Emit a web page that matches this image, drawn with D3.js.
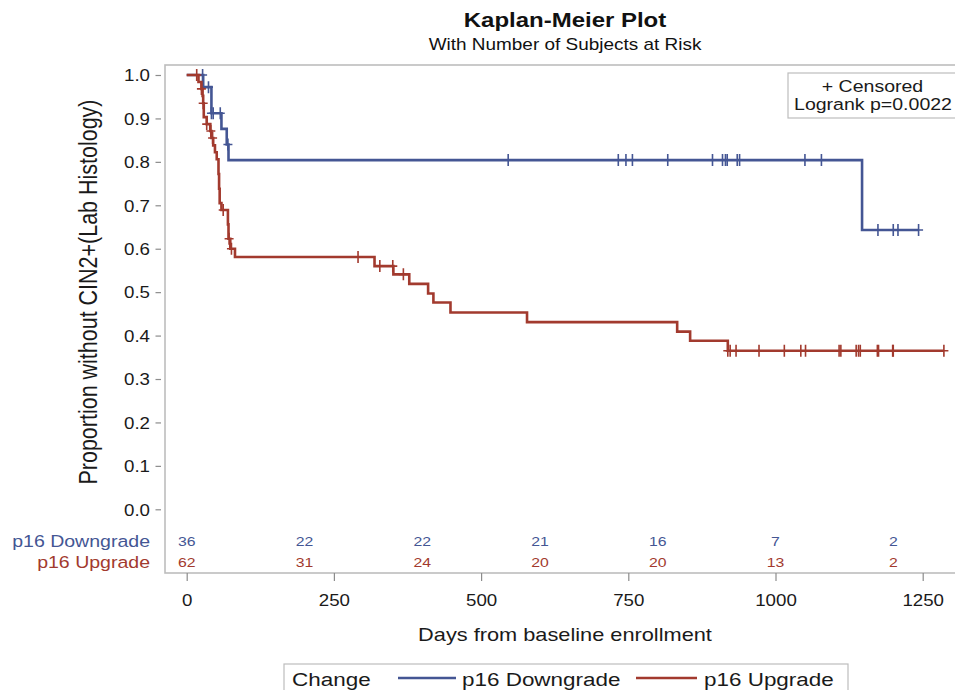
<!DOCTYPE html>
<html>
<head>
<meta charset="utf-8">
<script src="https://cdn.jsdelivr.net/npm/d3@7"></script>
<style>
  body { margin: 0; background: #fff; }
  svg { display: block; }
  text { font-family: "Liberation Sans", Arial, sans-serif; }
</style>
</head>
<body>
<div id="chart"></div>
<script>
// The SVG Element
var chart_width  = 955;
var chart_height = 690;
var SX = 1.17;   // the glyphs in the picture are drawn a bit wider than Arial

// Data
var down_name   = 'p16 Downgrade';
var up_name     = 'p16 Upgrade';

// event days and survival after each event
var down_times  = [28, 42, 59, 68, 71, 1147];
var down_surv   = [0.972, 0.912, 0.876, 0.840, 0.804, 0.643];
var down_censor = [27, 37, 42, 45, 57, 70, 546, 733, 746, 757, 817, 893, 910, 915, 918,
                   935, 939, 1050, 1078, 1174, 1200, 1208, 1243];

var up_times    = [20, 25, 27, 28, 29, 34, 40, 42, 45, 48, 51, 54, 55, 56, 59, 70, 71, 74, 82,
                   319, 351, 378, 410, 419, 448, 578, 833, 855, 919];
var up_surv     = [0.984, 0.968, 0.952, 0.935, 0.903, 0.887, 0.871, 0.855, 0.838, 0.822, 0.806,
                   0.772, 0.738, 0.705, 0.689, 0.656, 0.623, 0.600, 0.581,
                   0.560, 0.541, 0.519, 0.497, 0.476, 0.453, 0.431, 0.409, 0.388, 0.365];
var up_censor   = [17, 25, 28, 34, 41, 44, 62, 72, 76, 291, 328, 350, 368, 919, 923, 933, 972,
                   1015, 1043, 1051, 1108, 1111, 1137, 1141, 1144, 1173, 1175, 1199, 1200, 1286];

var risk_days   = [0, 200, 400, 600, 800, 1000, 1200];
var down_risk   = [36, 22, 22, 21, 16, 7, 2];
var up_risk     = [62, 31, 24, 20, 20, 13, 2];

var x_ticks     = [0, 250, 500, 750, 1000, 1250];
var y_ticks     = [0, 0.1, 0.2, 0.3, 0.4, 0.5, 0.6, 0.7, 0.8, 0.9, 1.0];
var logrank_p   = '0.0022';

var blue = '#445694';
var red  = '#a23a2e';
var grey = '#bdbdbd';

var x = d3.scaleLinear().domain([0, 1250]).range([186.7, 922.7]);
var y = d3.scaleLinear().domain([0, 1]).range([509.3, 75]);

var svg = d3.select('#chart')
    .append('svg')
    .attr('width', chart_width)
    .attr('height', chart_height);

function add_text(parent, px, py, str, size, anchor, color, weight) {
    return parent.append('text')
        .attr('transform', 'translate(' + px + ',' + py + ') scale(' + SX + ',1)')
        .attr('text-anchor', anchor || 'start')
        .style('font-size', size + 'px')
        .style('font-weight', weight || 'normal')
        .style('fill', color || '#1a1a1a')
        .text(str);
}

// titles
add_text(svg, 565, 27, 'Kaplan-Meier Plot', 20.5, 'middle', '#111', 'bold');
add_text(svg, 565, 50, 'With Number of Subjects at Risk', 16.2, 'middle', '#111');

// frame (right side runs past the picture)
svg.append('rect')
    .attr('x', 165).attr('y', 65)
    .attr('width', 800).attr('height', 508)
    .attr('fill', 'none')
    .attr('stroke', grey)
    .attr('stroke-width', 1.6);

// axes
var y_axis = svg.append('g')
    .attr('transform', 'translate(161,0)')
    .call(d3.axisLeft(y).tickValues(y_ticks).tickSize(5.5).tickFormat(d3.format('.1f')));
y_axis.select('.domain').remove();
y_axis.selectAll('line').attr('stroke', '#8c8c8c').attr('stroke-width', 1.2);
y_axis.selectAll('text')
    .attr('x', null).attr('dy', null)
    .attr('transform', 'translate(-11,5.8) scale(' + SX + ',1)')
    .style('font-size', '16px')
    .style('fill', '#1a1a1a');

var x_axis = svg.append('g')
    .attr('transform', 'translate(0,573)')
    .call(d3.axisBottom(x).tickValues(x_ticks).tickSize(8).tickFormat(d3.format('d')));
x_axis.select('.domain').remove();
x_axis.selectAll('line').attr('stroke', '#8c8c8c').attr('stroke-width', 1.2);
x_axis.selectAll('text')
    .attr('y', null).attr('dy', null)
    .attr('transform', 'translate(0,33) scale(' + SX + ',1)')
    .style('font-size', '16px')
    .style('fill', '#1a1a1a');

add_text(svg, 565, 641, 'Days from baseline enrollment', 18.6, 'middle');
svg.append('text')
    .attr('transform', 'translate(97,292) scale(' + SX + ',1) rotate(-90)')
    .attr('text-anchor', 'middle')
    .style('font-size', '21.5px')
    .style('fill', '#1a1a1a')
    .text('Proportion without CIN2+(Lab Histology)');

// curves
function surv_at(times, surv, t) {
    var s = 1;
    times.forEach(function(tt, i) { if (tt <= t) { s = surv[i]; } });
    return s;
}

var km_line = d3.line()
    .x(function(d) { return x(d[0]); })
    .y(function(d) { return y(d[1]); })
    .curve(d3.curveStepAfter);

function draw_group(times, surv, censor, color) {
    var pts = [[0, 1]];
    times.forEach(function(t, i) { pts.push([t, surv[i]]); });
    var last = d3.max(censor.concat(times));
    pts.push([last, surv[surv.length - 1]]);

    svg.append('path')
        .attr('d', km_line(pts))
        .attr('fill', 'none')
        .attr('stroke', color)
        .attr('stroke-width', 2.6);

    svg.append('g').selectAll('path')
        .data(censor)
        .enter()
        .append('path')
        .attr('transform', function(d) {
            return 'translate(' + x(d) + ',' + y(surv_at(times, surv, d)) + ')';
        })
        .attr('d', 'M-4.5,0H4.5M0,-6V6')
        .attr('stroke', color)
        .attr('stroke-width', 1.6)
        .attr('fill', 'none');
}

draw_group(down_times, down_surv, down_censor, blue);
draw_group(up_times, up_surv, up_censor, red);

// inset
svg.append('rect')
    .attr('x', 788).attr('y', 73)
    .attr('width', 180).attr('height', 45)
    .attr('fill', '#fff')
    .attr('stroke', grey)
    .attr('stroke-width', 1.2);
add_text(svg, 872.5, 91.5, '+ Censored', 16.7, 'middle');
add_text(svg, 873, 110, 'Logrank p=' + logrank_p, 16.7, 'middle');

// subjects at risk
add_text(svg, 150, 546.5, down_name, 16.7, 'end', blue);
add_text(svg, 150, 567.5, up_name, 16.7, 'end', red);
risk_days.forEach(function(d, i) {
    add_text(svg, x(d), 546, down_risk[i], 13.5, 'middle', blue);
    add_text(svg, x(d), 567, up_risk[i], 13.5, 'middle', red);
});

// legend
svg.append('rect')
    .attr('x', 284).attr('y', 664)
    .attr('width', 564).attr('height', 32)
    .attr('fill', 'none')
    .attr('stroke', grey)
    .attr('stroke-width', 1.2);
add_text(svg, 292, 685.5, 'Change', 19.2);
svg.append('line')
    .attr('x1', 398).attr('x2', 456).attr('y1', 678).attr('y2', 678)
    .attr('stroke', blue).attr('stroke-width', 2.6);
add_text(svg, 462, 685.5, down_name, 19.2);
svg.append('line')
    .attr('x1', 636).attr('x2', 697).attr('y1', 678).attr('y2', 678)
    .attr('stroke', red).attr('stroke-width', 2.6);
add_text(svg, 704, 685.5, up_name, 19.2);
</script>
</body>
</html>
